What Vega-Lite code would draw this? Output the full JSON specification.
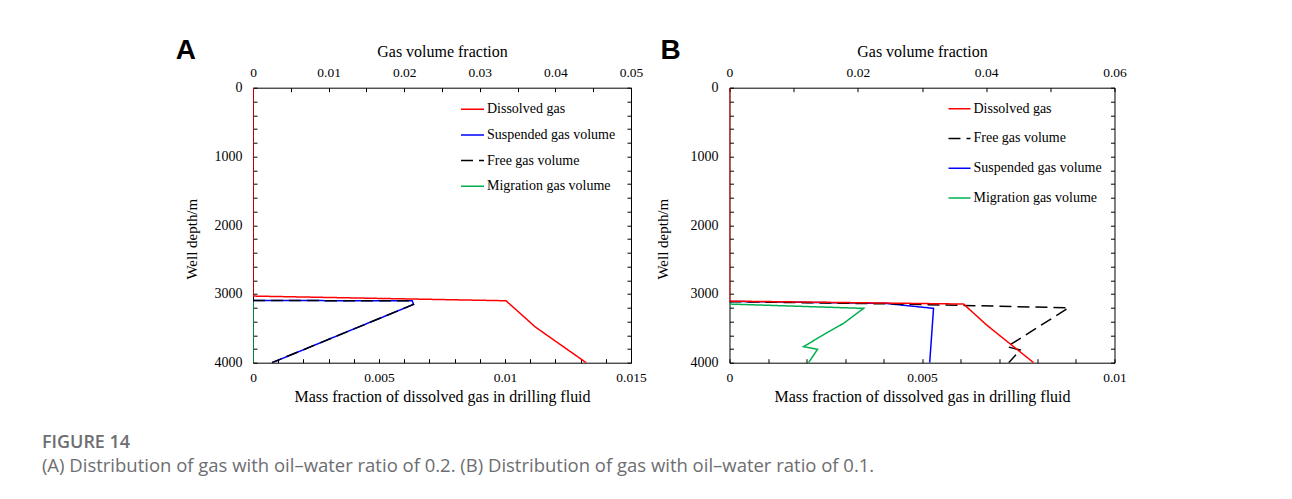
{
  "$schema": "https://vega.github.io/schema/vega-lite/v6.json",
  "background": "white",
  "padding": {"left": 41, "top": 35.7, "right": 5, "bottom": 5},
  "datasets": {
    "A": [
      {"series": "Dissolved gas", "value": 0, "depth": 0},
      {"series": "Dissolved gas", "value": 0, "depth": 3031},
      {"series": "Dissolved gas", "value": 0.01004, "depth": 3099},
      {"series": "Dissolved gas", "value": 0.0112, "depth": 3480},
      {"series": "Dissolved gas", "value": 0.01322, "depth": 4000},
      {"series": "Suspended gas volume", "value": 0, "depth": 3095},
      {"series": "Suspended gas volume", "value": 0.02106, "depth": 3100},
      {"series": "Suspended gas volume", "value": 0.02123, "depth": 3152},
      {"series": "Suspended gas volume", "value": 0.00251, "depth": 4000},
      {"series": "Free gas volume", "value": 0, "depth": 3095},
      {"series": "Free gas volume", "value": 0.02106, "depth": 3100},
      {"series": "Free gas volume", "value": 0.02123, "depth": 3152},
      {"series": "Free gas volume", "value": 0.00251, "depth": 4000},
      {"series": "Migration gas volume", "value": 0, "depth": 3100},
      {"series": "Migration gas volume", "value": 0, "depth": 4000}
    ],
    "B": [
      {"series": "Dissolved gas", "value": 0, "depth": 0},
      {"series": "Dissolved gas", "value": 0, "depth": 3104},
      {"series": "Dissolved gas", "value": 0.00608, "depth": 3147},
      {"series": "Dissolved gas", "value": 0.00668, "depth": 3452},
      {"series": "Dissolved gas", "value": 0.0079, "depth": 4000},
      {"series": "Suspended gas volume", "value": 0, "depth": 3109},
      {"series": "Suspended gas volume", "value": 0.0243, "depth": 3137},
      {"series": "Suspended gas volume", "value": 0.0318, "depth": 3210},
      {"series": "Suspended gas volume", "value": 0.0312, "depth": 4000},
      {"series": "Free gas volume", "value": 0, "depth": 3112},
      {"series": "Free gas volume", "value": 0.0263, "depth": 3147},
      {"series": "Free gas volume", "value": 0.05287, "depth": 3201},
      {"series": "Free gas volume", "value": 0.04326, "depth": 3767},
      {"series": "Free gas volume", "value": 0.0453, "depth": 3815},
      {"series": "Free gas volume", "value": 0.04351, "depth": 4000},
      {"series": "Migration gas volume", "value": 0, "depth": 3147},
      {"series": "Migration gas volume", "value": 0.0209, "depth": 3210},
      {"series": "Migration gas volume", "value": 0.01778, "depth": 3428},
      {"series": "Migration gas volume", "value": 0.015, "depth": 3573},
      {"series": "Migration gas volume", "value": 0.01154, "depth": 3767},
      {"series": "Migration gas volume", "value": 0.01372, "depth": 3805},
      {"series": "Migration gas volume", "value": 0.01232, "depth": 4000}
    ]
  },
  "title": {
    "text": "FIGURE 14",
    "subtitle": "(A) Distribution of gas with oil–water ratio of 0.2. (B) Distribution of gas with oil–water ratio of 0.1.",
    "orient": "bottom",
    "anchor": "start",
    "frame": "bounds",
    "dx": -133.3,
    "offset": 29,
    "font": "Open Sans",
    "fontSize": 18,
    "fontWeight": 600,
    "color": "#6d6e71",
    "subtitleFont": "Open Sans",
    "subtitleFontSize": 18.5,
    "subtitleColor": "#6d6e71",
    "subtitlePadding": 5
  },
  "spacing": 8.5,
  "hconcat": [
    {
      "width": 378,
      "height": 275,
      "data": {"name": "A"},
      "title": {"text": "A", "anchor": "start", "frame": "group", "dx": -77.3, "dy": 21.4, "offset": 0, "font": "Liberation Sans", "fontSize": 28, "fontWeight": "bold", "color": "black"},
      "layer": [
        {
          "transform": [{"filter": "datum.series !== 'Dissolved gas'"}],
          "encoding": {
            "x": {"field": "value", "type": "quantitative", "scale": {"domain": [0, 0.05], "nice": false},
              "axis": {"orient": "top", "title": "Gas volume fraction", "values": [0, 0.005, 0.01, 0.015, 0.02, 0.025, 0.03, 0.035, 0.04, 0.045, 0.05], "format": "~g", "labelExpr": "round(datum.value*1000) % 10 === 0 ? datum.label : ''"}},
            "y": {"field": "depth", "type": "quantitative", "scale": {"domain": [0, 4000], "reverse": true, "nice": false},
              "axis": {"orient": "left", "title": "Well depth/m", "values": [0, 200, 400, 600, 800, 1000, 1200, 1400, 1600, 1800, 2000, 2200, 2400, 2600, 2800, 3000, 3200, 3400, 3600, 3800, 4000], "format": "d", "labelExpr": "datum.value % 1000 === 0 ? datum.label : ''", "titleY": 151, "labelFontSize": 14, "titleFontSize": 15, "labelPadding": 15, "titlePadding": 15}},
            "color": {"field": "series", "type": "nominal",
              "scale": {"domain": ["Dissolved gas", "Suspended gas volume", "Free gas volume", "Migration gas volume"], "range": ["#ff0000", "#0000ff", "#000000", "#00b050"]},
              "legend": {"orient": "none", "legendX": 207, "legendY": 9, "title": null, "symbolType": "stroke", "symbolSize": 529, "symbolStrokeWidth": 1.5, "rowPadding": 5.7, "labelOffset": 2, "padding": 0}},
            "strokeDash": {"field": "series", "type": "nominal",
              "scale": {"domain": ["Dissolved gas", "Suspended gas volume", "Free gas volume", "Migration gas volume"], "range": [[1, 0], [1, 0], [12, 6], [1, 0]]},
              "legend": {"orient": "none", "legendX": 207, "legendY": 9, "title": null, "symbolType": "stroke", "symbolSize": 529, "symbolStrokeWidth": 1.5, "rowPadding": 5.7, "labelOffset": 2, "padding": 0}},
            "order": {"field": "depth", "type": "quantitative"}
          },
          "layer": [
            {"transform": [{"filter": "datum.series === 'Migration gas volume'"}], "mark": {"type": "line", "strokeWidth": 1.5, "clip": true}},
            {"transform": [{"filter": "datum.series === 'Suspended gas volume'"}], "mark": {"type": "line", "strokeWidth": 1.5, "clip": true}},
            {"transform": [{"filter": "datum.series === 'Free gas volume'"}], "mark": {"type": "line", "strokeWidth": 1.5, "clip": true}}
          ]
        },
        {
          "transform": [{"filter": "datum.series === 'Dissolved gas'"}],
          "mark": {"type": "line", "strokeWidth": 1.5, "clip": true},
          "encoding": {
            "x": {"field": "value", "type": "quantitative", "scale": {"domain": [0, 0.015], "nice": false},
              "axis": {"orient": "bottom", "title": "Mass fraction of dissolved gas in drilling fluid", "titlePadding": 4, "values": [0, 0.001, 0.002, 0.003, 0.004, 0.005, 0.006, 0.007, 0.008, 0.009, 0.01, 0.011, 0.012, 0.013, 0.014, 0.015], "format": "~g", "labelExpr": "round(datum.value*1000) % 5 === 0 ? datum.label : ''"}},
            "y": {"field": "depth", "type": "quantitative", "scale": {"domain": [0, 4000], "reverse": true, "nice": false},
              "axis": {"orient": "right", "title": null, "labels": false, "values": [0, 200, 400, 600, 800, 1000, 1200, 1400, 1600, 1800, 2000, 2200, 2400, 2600, 2800, 3000, 3200, 3400, 3600, 3800, 4000]}},
            "color": {"field": "series", "type": "nominal"},
            "strokeDash": {"field": "series", "type": "nominal"},
            "order": {"field": "depth", "type": "quantitative"}
          }
        }
      ],
      "resolve": {"scale": {"x": "independent"}, "axis": {"x": "independent", "y": "independent"}}
    },
    {
      "width": 385,
      "height": 275,
      "data": {"name": "B"},
      "title": {"text": "B", "anchor": "start", "frame": "group", "dx": -69, "dy": 21.4, "offset": 0, "font": "Liberation Sans", "fontSize": 28, "fontWeight": "bold", "color": "black"},
      "layer": [
        {
          "transform": [{"filter": "datum.series !== 'Dissolved gas'"}],
          "encoding": {
            "x": {"field": "value", "type": "quantitative", "scale": {"domain": [0, 0.06], "nice": false},
              "axis": {"orient": "top", "title": "Gas volume fraction", "values": [0, 0.01, 0.02, 0.03, 0.04, 0.05, 0.06], "format": "~g", "labelExpr": "round(datum.value*100) % 2 === 0 ? datum.label : ''"}},
            "y": {"field": "depth", "type": "quantitative", "scale": {"domain": [0, 4000], "reverse": true, "nice": false},
              "axis": {"orient": "left", "title": "Well depth/m", "values": [0, 200, 400, 600, 800, 1000, 1200, 1400, 1600, 1800, 2000, 2200, 2400, 2600, 2800, 3000, 3200, 3400, 3600, 3800, 4000], "format": "d", "labelExpr": "datum.value % 1000 === 0 ? datum.label : ''", "titleY": 151, "labelFontSize": 14, "titleFontSize": 15, "labelPadding": 15.5, "titlePadding": 19}},
            "color": {"field": "series", "type": "nominal",
              "scale": {"domain": ["Dissolved gas", "Free gas volume", "Suspended gas volume", "Migration gas volume"], "range": ["#ff0000", "#000000", "#0000ff", "#00b050"]},
              "legend": {"orient": "none", "legendX": 218, "legendY": 9, "title": null, "symbolType": "stroke", "symbolSize": 484, "symbolStrokeWidth": 1.5, "rowPadding": 10.8, "labelOffset": 2, "padding": 0}},
            "strokeDash": {"field": "series", "type": "nominal",
              "scale": {"domain": ["Dissolved gas", "Free gas volume", "Suspended gas volume", "Migration gas volume"], "range": [[1, 0], [12, 6], [1, 0], [1, 0]]},
              "legend": {"orient": "none", "legendX": 218, "legendY": 9, "title": null, "symbolType": "stroke", "symbolSize": 484, "symbolStrokeWidth": 1.5, "rowPadding": 10.8, "labelOffset": 2, "padding": 0}},
            "order": {"field": "depth", "type": "quantitative"}
          },
          "layer": [
            {"transform": [{"filter": "datum.series === 'Migration gas volume'"}], "mark": {"type": "line", "strokeWidth": 1.5, "clip": true}},
            {"transform": [{"filter": "datum.series === 'Suspended gas volume'"}], "mark": {"type": "line", "strokeWidth": 1.5, "clip": true}},
            {"transform": [{"filter": "datum.series === 'Free gas volume'"}], "mark": {"type": "line", "strokeWidth": 1.5, "clip": true}}
          ]
        },
        {
          "transform": [{"filter": "datum.series === 'Dissolved gas'"}],
          "mark": {"type": "line", "strokeWidth": 1.5, "clip": true},
          "encoding": {
            "x": {"field": "value", "type": "quantitative", "scale": {"domain": [0, 0.01], "nice": false},
              "axis": {"orient": "bottom", "title": "Mass fraction of dissolved gas in drilling fluid", "titlePadding": 4, "values": [0, 0.001, 0.002, 0.003, 0.004, 0.005, 0.006, 0.007, 0.008, 0.009, 0.01], "format": "~g", "labelExpr": "round(datum.value*1000) % 5 === 0 ? datum.label : ''"}},
            "y": {"field": "depth", "type": "quantitative", "scale": {"domain": [0, 4000], "reverse": true, "nice": false},
              "axis": {"orient": "right", "title": null, "labels": false, "values": [0, 200, 400, 600, 800, 1000, 1200, 1400, 1600, 1800, 2000, 2200, 2400, 2600, 2800, 3000, 3200, 3400, 3600, 3800, 4000]}},
            "color": {"field": "series", "type": "nominal"},
            "strokeDash": {"field": "series", "type": "nominal"},
            "order": {"field": "depth", "type": "quantitative"}
          }
        }
      ],
      "resolve": {"scale": {"x": "independent"}, "axis": {"x": "independent", "y": "independent"}}
    }
  ],
  "resolve": {"scale": {"color": "independent", "strokeDash": "independent"}, "legend": {"color": "independent", "strokeDash": "independent"}},
  "config": {
    "view": {"stroke": "black", "strokeWidth": 1},
    "axis": {"domain": false, "grid": false, "tickColor": "black", "tickSize": -4, "tickWidth": 1, "labelPadding": 12, "labelFlush": false, "labelOverlap": false, "labelFont": "Liberation Serif", "labelFontSize": 13.5, "labelColor": "black", "titleFont": "Liberation Serif", "titleFontSize": 16, "titleFontWeight": "normal", "titleColor": "black", "titlePadding": 6},
    "legend": {"labelFont": "Liberation Serif", "labelFontSize": 14, "labelColor": "black"},
    "title": {"subtitleFontWeight": "normal"}
  }
}
